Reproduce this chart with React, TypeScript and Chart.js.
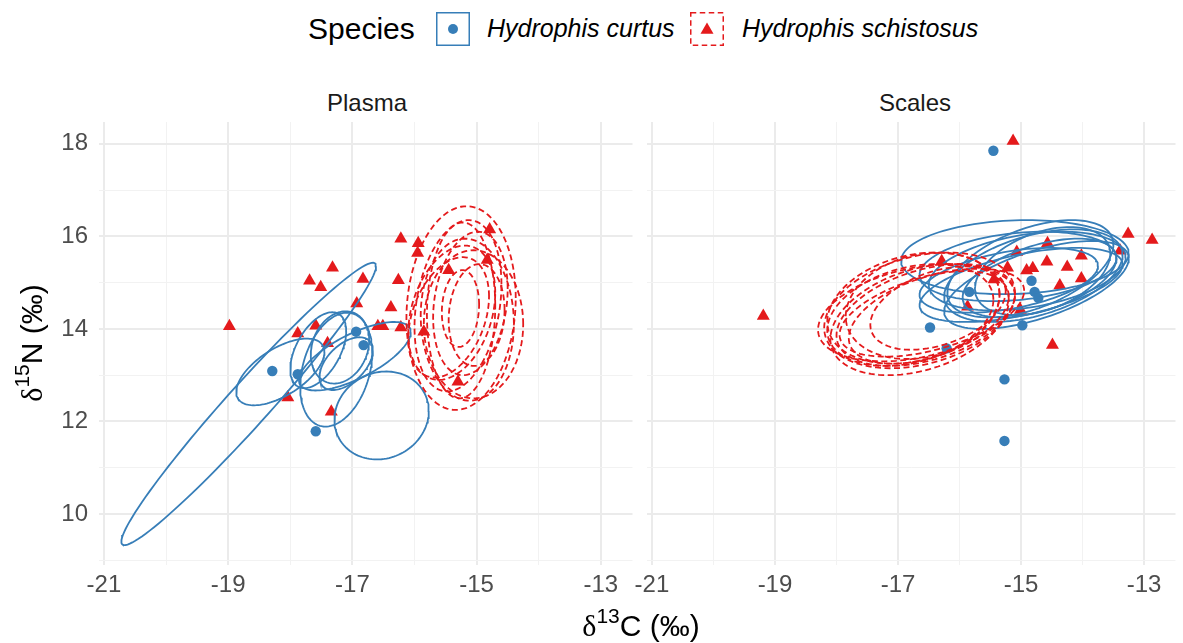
import React, { useEffect, useRef } from "react";
import { Chart, registerables } from "chart.js";

Chart.register(...registerables);

const BLUE = "#377eb8";
const RED = "#e41a1c";
const SANS = "'Liberation Sans', Arial, Helvetica, sans-serif";
const SERIF = "'Liberation Serif', 'DejaVu Serif', serif";

const X_MIN = -21.08;
const X_MAX = -12.49;
const Y_MIN = 8.9;
const Y_MAX = 18.47;

const panelNames = ["Plasma", "Scales"];
const speciesNames = ["Hydrophis curtus", "Hydrophis schistosus"];

// ---------- Plasma: points ----------
const plasmaCurtusX = [-18.29, -17.88, -17.59, -16.94, -16.82];
const plasmaCurtusY = [13.09, 13.02, 11.79, 13.94, 13.65];

const plasmaSchistosusX = [
  -18.98, -17.88, -17.69, -17.51, -17.32, -17.59, -17.40, -18.04, -17.34,
  -16.93, -16.83, -16.59, -16.51, -16.38, -16.26, -16.22, -16.22, -15.94,
  -15.95, -15.85, -15.45, -15.30, -14.83, -14.79,
];
const plasmaSchistosusY = [
  14.06, 13.90, 15.04, 14.90, 15.32, 14.07, 13.69, 12.52, 12.21,
  14.55, 15.08, 14.06, 14.06, 14.46, 15.05, 15.95, 14.03, 15.85,
  15.64, 13.94, 15.27, 12.86, 15.49, 16.15,
];

// ---------- Scales: points ----------
const scalesCurtusX = [-15.45, -14.83, -14.78, -14.72, -15.84, -14.98, -16.48, -16.21, -15.27, -15.27];
const scalesCurtusY = [17.85, 15.04, 14.80, 14.67, 14.80, 14.08, 14.03, 13.58, 12.91, 11.58];

const scalesSchistosusX = [
  -19.19, -16.29, -15.87, -15.13, -13.26, -12.87, -14.57, -13.39, -15.07,
  -14.02, -14.58, -15.22, -14.91, -14.81, -14.25, -14.02, -15.44, -14.37,
  -15.01, -14.49,
];
const scalesSchistosusY = [
  14.28, 15.46, 14.48, 18.06, 16.05, 15.92, 15.85, 15.69, 15.66,
  15.58, 15.45, 15.32, 15.26, 15.31, 15.34, 15.09, 15.07, 14.94,
  14.41, 13.65,
];

// ---------- Ellipses: centre, half x-range, half y-range, correlation ----------
const plasmaCurtusEllCX = [-18.67, -18.16, -16.96, -16.53, -17.26, -17.55, -17.10, -17.20];
const plasmaCurtusEllCY = [12.38, 13.07, 13.41, 12.13, 13.12, 13.54, 13.25, 13.60];
const plasmaCurtusEllSX = [2.05, 0.71, 0.90, 0.76, 0.58, 0.45, 0.43, 0.47];
const plasmaCurtusEllSY = [3.05, 0.72, 0.74, 0.95, 1.23, 0.82, 0.57, 0.78];
const plasmaCurtusEllR = [0.975, 0.60, 0.70, 0.10, 0.30, 0.50, 0.50, 0.20];

const plasmaSchistosusEllCX = [-15.25, -15.30, -15.15, -15.10, -15.40, -15.05, -15.26, -15.25, -15.00, -15.45];
const plasmaSchistosusEllCY = [14.45, 14.50, 14.20, 14.55, 14.35, 14.10, 14.44, 14.40, 14.30, 14.25];
const plasmaSchistosusEllSX = [0.88, 0.70, 0.75, 0.60, 0.70, 0.80, 0.30, 0.55, 0.45, 0.65];
const plasmaSchistosusEllSY = [2.20, 1.85, 1.75, 1.55, 1.45, 1.60, 0.83, 1.90, 1.10, 1.30];
const plasmaSchistosusEllR = [0.10, 0.25, -0.05, 0.20, 0.30, 0.00, 0.10, 0.05, 0.10, 0.35];

const scalesCurtusEllCX = [-15.10, -14.80, -14.90, -14.70, -15.00, -14.85, -14.75, -15.05, -14.65, -15.20];
const scalesCurtusEllCY = [15.55, 15.15, 15.25, 15.10, 14.95, 15.30, 14.95, 15.35, 15.25, 15.05];
const scalesCurtusEllSX = [1.85, 1.45, 1.60, 1.25, 1.65, 1.35, 1.50, 1.60, 1.10, 1.45];
const scalesCurtusEllSY = [0.80, 1.00, 0.85, 0.85, 0.80, 1.05, 0.95, 0.75, 0.95, 0.70];
const scalesCurtusEllR = [0.10, 0.45, 0.35, 0.50, 0.55, 0.50, 0.60, 0.25, 0.40, 0.45];

const scalesSchistosusEllCX = [-16.65, -16.55, -16.75, -16.50, -16.70, -16.60, -16.45, -16.80, -16.35, -16.65];
const scalesSchistosusEllCY = [14.40, 14.30, 14.45, 14.25, 14.35, 14.50, 14.35, 14.30, 14.45, 14.20];
const scalesSchistosusEllSX = [1.55, 1.45, 1.40, 1.30, 1.60, 1.25, 1.50, 1.35, 1.10, 1.45];
const scalesSchistosusEllSY = [1.25, 1.10, 1.20, 1.00, 1.05, 1.15, 0.95, 1.10, 0.90, 1.20];
const scalesSchistosusEllR = [0.30, 0.40, 0.25, 0.45, 0.35, 0.20, 0.50, 0.30, 0.40, 0.35];

function ellipseOutline(cx: number, cy: number, sx: number, sy: number, r: number) {
  const pts: { x: number; y: number }[] = [];
  const k = Math.sqrt(1 - r * r);
  const n = 120;
  for (let i = 0; i <= n; i++) {
    const t = (2 * Math.PI * i) / n;
    pts.push({ x: cx + sx * Math.cos(t), y: cy + sy * (r * Math.cos(t) + k * Math.sin(t)) });
  }
  return pts;
}

function buildDatasets(
  curX: number[], curY: number[], schX: number[], schY: number[],
  cE: number[][], sE: number[][]
) {
  const ds: any[] = [];
  sE[0].forEach((_, i) => {
    ds.push({
      data: ellipseOutline(sE[0][i], sE[1][i], sE[2][i], sE[3][i], sE[4][i]),
      showLine: true, borderColor: RED, borderWidth: 1.8, borderDash: [6, 3.5],
      pointRadius: 0, fill: false, order: 0,
    });
  });
  cE[0].forEach((_, i) => {
    ds.push({
      data: ellipseOutline(cE[0][i], cE[1][i], cE[2][i], cE[3][i], cE[4][i]),
      showLine: true, borderColor: BLUE, borderWidth: 1.8,
      pointRadius: 0, fill: false, order: 1,
    });
  });
  ds.push({
    data: schX.map((x, i) => ({ x, y: schY[i] })),
    pointStyle: "triangle", pointRadius: 7.5, backgroundColor: RED, borderColor: RED, borderWidth: 0, order: 2,
  });
  ds.push({
    data: curX.map((x, i) => ({ x, y: curY[i] })),
    pointStyle: "circle", pointRadius: 5.2, backgroundColor: BLUE, borderColor: BLUE, borderWidth: 0, order: 3,
  });
  return ds;
}

function makeConfig(showY: boolean, datasets: any[], padding: any): any {
  const tickFont = { family: SANS, size: 24 };
  return {
    type: "scatter",
    data: { datasets },
    options: {
      animation: false,
      responsive: false,
      devicePixelRatio: 1,
      events: [],
      layout: { padding },
      plugins: { legend: { display: false }, tooltip: { enabled: false }, title: { display: false } },
      scales: {
        x: {
          type: "linear", min: X_MIN, max: X_MAX,
          border: { display: false },
          grid: {
            drawTicks: false,
            color: (c: any) => (Math.abs(Math.round(c.tick ? c.tick.value : 0)) % 2 === 1 ? "#ebebeb" : "#f2f2f2"),
            lineWidth: (c: any) => (Math.abs(Math.round(c.tick ? c.tick.value : 0)) % 2 === 1 ? 2 : 1),
          },
          ticks: {
            stepSize: 1, includeBounds: false, autoSkip: false, maxRotation: 0, minRotation: 0,
            padding: 6, color: "#4d4d4d", font: tickFont,
            callback: (v: number) => (Math.abs(Math.round(v)) % 2 === 1 ? String(Math.round(v)) : ""),
          },
          afterFit: (s: any) => { s.height = 78; },
        },
        y: {
          type: "linear", min: Y_MIN, max: Y_MAX,
          border: { display: false },
          grid: {
            drawTicks: false,
            color: (c: any) => (Math.abs(Math.round(c.tick ? c.tick.value : 0)) % 2 === 0 ? "#ebebeb" : "#f2f2f2"),
            lineWidth: (c: any) => (Math.abs(Math.round(c.tick ? c.tick.value : 0)) % 2 === 0 ? 2 : 1),
          },
          ticks: {
            display: showY,
            stepSize: 1, includeBounds: false, autoSkip: false,
            padding: 11, color: "#4d4d4d", font: tickFont,
            callback: (v: number) => (Math.abs(Math.round(v)) % 2 === 0 ? String(Math.round(v)) : ""),
          },
          afterFit: (s: any) => { s.width = showY ? 99 : 0; },
        },
      },
    },
  };
}

export default function App() {
  const leftRef = useRef<HTMLCanvasElement | null>(null);
  const rightRef = useRef<HTMLCanvasElement | null>(null);

  useEffect(() => {
    document.body.style.margin = "0";
    const left = new Chart(
      leftRef.current as HTMLCanvasElement,
      makeConfig(
        true,
        buildDatasets(
          plasmaCurtusX, plasmaCurtusY, plasmaSchistosusX, plasmaSchistosusY,
          [plasmaCurtusEllCX, plasmaCurtusEllCY, plasmaCurtusEllSX, plasmaCurtusEllSY, plasmaCurtusEllR],
          [plasmaSchistosusEllCX, plasmaSchistosusEllCY, plasmaSchistosusEllSX, plasmaSchistosusEllSY, plasmaSchistosusEllR]
        ),
        { left: 0, right: 5, top: 122, bottom: 0 }
      )
    );
    const right = new Chart(
      rightRef.current as HTMLCanvasElement,
      makeConfig(
        false,
        buildDatasets(
          scalesCurtusX, scalesCurtusY, scalesSchistosusX, scalesSchistosusY,
          [scalesCurtusEllCX, scalesCurtusEllCY, scalesCurtusEllSX, scalesCurtusEllSY, scalesCurtusEllR],
          [scalesSchistosusEllCX, scalesSchistosusEllCY, scalesSchistosusEllSX, scalesSchistosusEllSY, scalesSchistosusEllR]
        ),
        { left: 64, right: 0, top: 122, bottom: 0 }
      )
    );
    return () => {
      left.destroy();
      right.destroy();
    };
  }, []);

  const abs = (o: any): any => ({ position: "absolute", whiteSpace: "nowrap", lineHeight: 1, ...o });

  return (
    <div style={{ position: "relative", width: 1183, height: 643, overflow: "hidden", fontFamily: SANS, background: "#fff" }}>
      {/* Legend */}
      <div style={abs({ left: 308, top: 14, fontSize: 30, color: "#000" })}>Species</div>
      <svg style={{ position: "absolute", left: 436, top: 12 }} width={34} height={34}>
        <rect x={0.75} y={0.75} width={32.5} height={32.5} fill="#fff" stroke={BLUE} strokeWidth={1.5} />
        <circle cx={17} cy={17} r={5} fill={BLUE} />
      </svg>
      <div style={abs({ left: 487, top: 16, fontSize: 25, fontStyle: "italic", color: "#000" })}>{speciesNames[0]}</div>
      <svg style={{ position: "absolute", left: 690, top: 12 }} width={34} height={34}>
        <rect x={0.75} y={0.75} width={32.5} height={32.5} fill="#fff" stroke={RED} strokeWidth={1.5} strokeDasharray="5.5 3.5" />
        <polygon points="17,10.5 23.5,21.75 10.5,21.75" fill={RED} />
      </svg>
      <div style={abs({ left: 742, top: 16, fontSize: 25, fontStyle: "italic", color: "#000" })}>{speciesNames[1]}</div>

      {/* Strip labels */}
      <div style={abs({ left: 99, width: 536, top: 91, fontSize: 24, color: "#1a1a1a", textAlign: "center" })}>{panelNames[0]}</div>
      <div style={abs({ left: 647, width: 536, top: 91, fontSize: 24, color: "#1a1a1a", textAlign: "center" })}>{panelNames[1]}</div>

      <canvas ref={leftRef} width={640} height={643} style={{ position: "absolute", left: 0, top: 0 }} />
      <canvas ref={rightRef} width={600} height={643} style={{ position: "absolute", left: 583, top: 0 }} />

      {/* Axis titles */}
      <div style={abs({ left: 441, width: 400, top: 611, fontSize: 30, color: "#000", textAlign: "center" })}>
        <span style={{ fontFamily: SERIF }}>δ</span>
        <span style={{ fontSize: 21, position: "relative", top: -13 }}>13</span>C (‰)
      </div>
      <div
        style={abs({
          left: 32 - 150, width: 300, top: 343 - 15, height: 30, fontSize: 30, color: "#000",
          textAlign: "center", transform: "rotate(-90deg)", transformOrigin: "50% 50%",
        })}
      >
        <span style={{ fontFamily: SERIF }}>δ</span>
        <span style={{ fontSize: 21, position: "relative", top: -13 }}>15</span>N (‰)
      </div>
    </div>
  );
}
